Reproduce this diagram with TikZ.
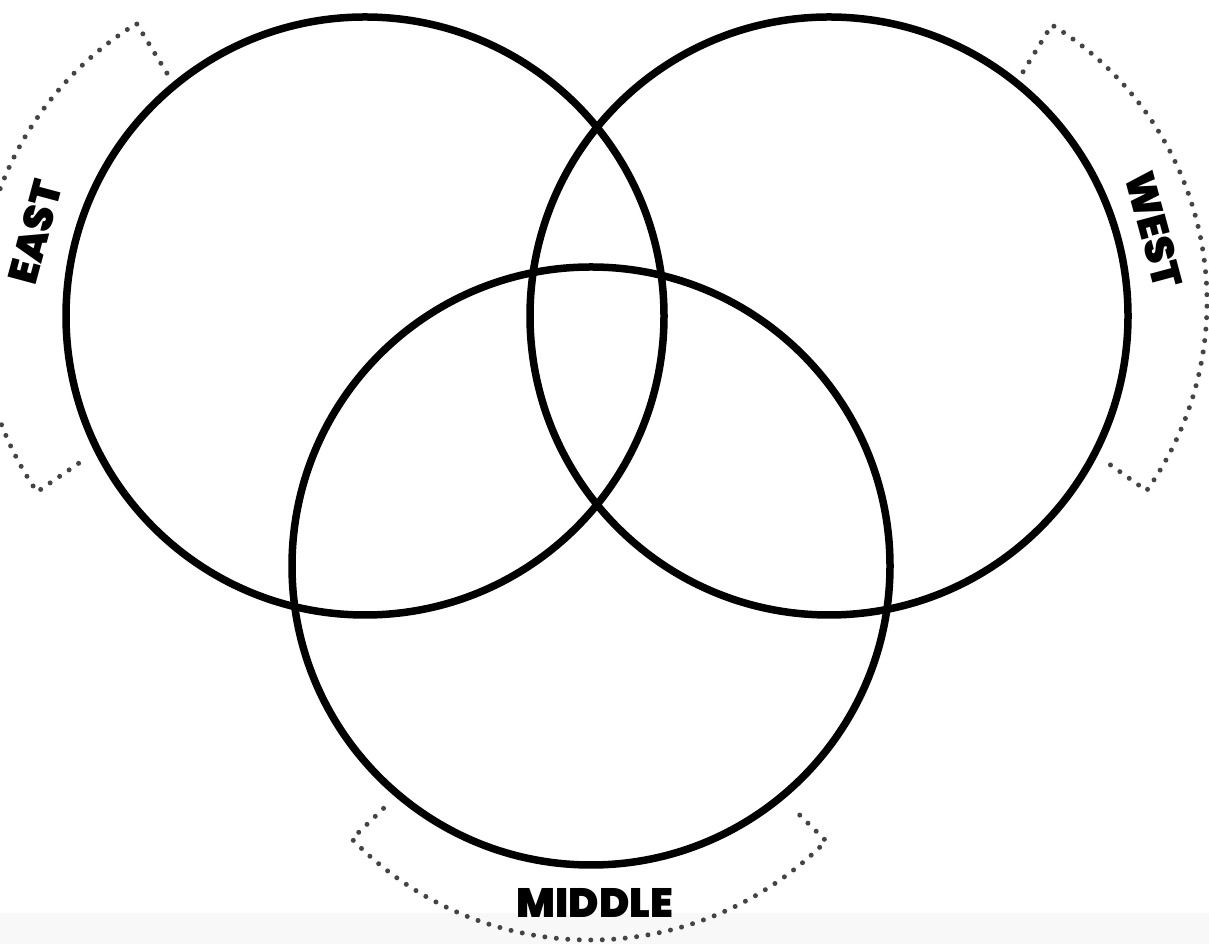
\documentclass[tikz,border=0pt]{standalone}
\usepackage{fontspec}
\newfontfamily\labfont{Poppins Black}
\definecolor{bandgray}{HTML}{F8F8F8}
\definecolor{dotgray}{HTML}{444444}
\tikzset{
  ring/.style={draw=black, line width=7.5pt},
  bracket/.style={draw=dotgray, line width=5pt, line cap=round, dash pattern=on 0pt off 11.5pt},
  lab/.style={font=\labfont\fontsize{41}{41}\selectfont, inner sep=0pt, text=black}
}
\begin{document}
\begin{tikzpicture}[x=1pt,y=1pt]
\useasboundingbox (0,0) rectangle (1209,944);
\fill[white] (0,0) rectangle (1209,944);
\fill[bandgray] (0,0) rectangle (1209,31);
% circles
\draw[ring] (365,628) circle[radius=299];
\draw[ring] (829,628) circle[radius=299];
\draw[ring] (591,378) circle[radius=299];
% EAST bracket
\draw[bracket] (309,639) ++(121.5:272) -- ++(121.5:58) arc[start angle=121.5, end angle=214.5, radius=330] -- ++(34.5:58);
% WEST bracket
\draw[bracket] (882,642) ++(58.5:270) -- ++(58.5:55) arc[start angle=58.5, end angle=-35.5, radius=325] -- ++(144.5:55);
% MIDDLE bracket
\draw[bracket] (590,335) ++(224:287) -- ++(224:44) arc[start angle=224, end angle=315.5, radius=331] -- ++(135.5:44);
% labels
\node[lab, rotate=75] (east) at (35,712) {EAST};
\node[lab, rotate=-75] (west) at (1154,714) {WEST};
\node[lab] (middle) at (595,41) {MIDDLE};
\end{tikzpicture}
\end{document}
